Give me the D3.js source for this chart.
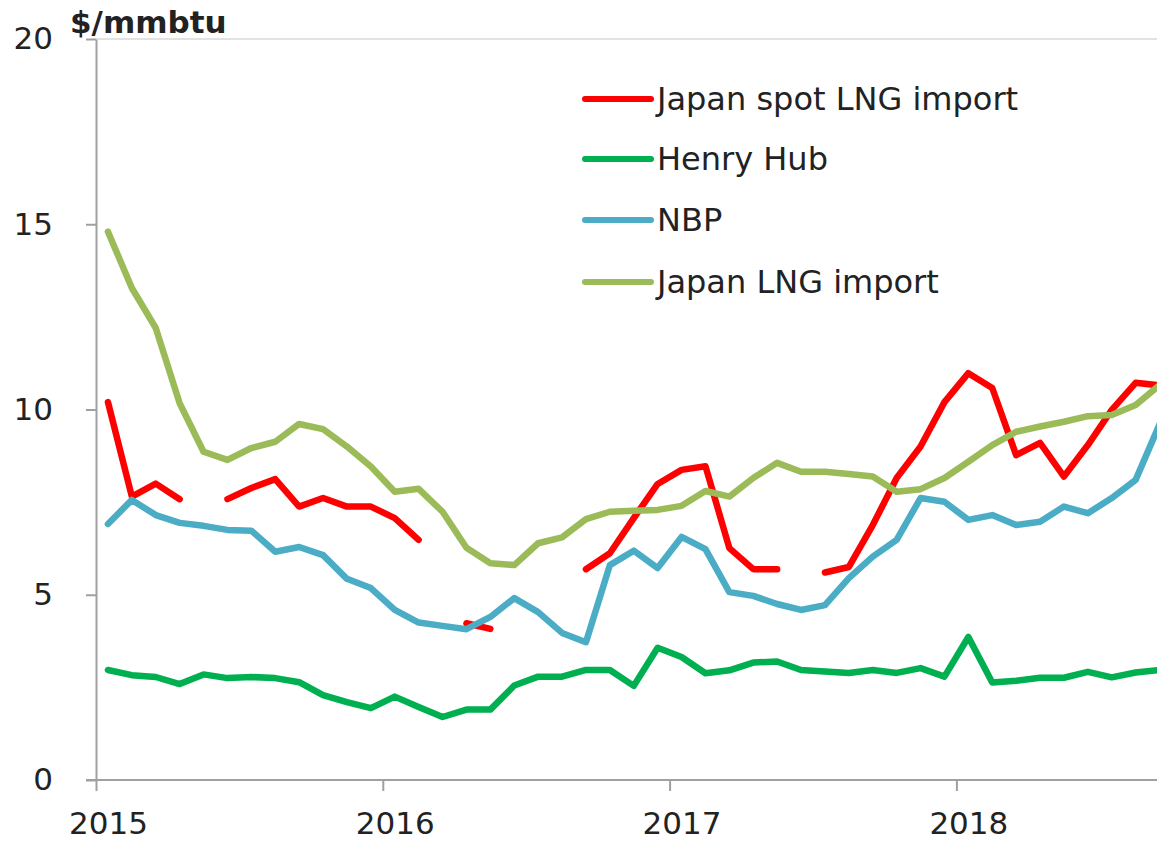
<!DOCTYPE html>
<html>
<head>
<meta charset="utf-8">
<script src="https://cdn.jsdelivr.net/npm/d3@7"></script>
<style>
  body { margin: 0; background: #fff; }
  svg { display: block; font-family: Verdana, "DejaVu Sans", sans-serif; }
</style>
</head>
<body>
<div id="chart"></div>
<script>
// monthly categories, Jan 2015 - Sep 2018
const months = [
  '2015-01','2015-02','2015-03','2015-04','2015-05','2015-06','2015-07','2015-08','2015-09','2015-10','2015-11','2015-12',
  '2016-01','2016-02','2016-03','2016-04','2016-05','2016-06','2016-07','2016-08','2016-09','2016-10','2016-11','2016-12',
  '2017-01','2017-02','2017-03','2017-04','2017-05','2017-06','2017-07','2017-08','2017-09','2017-10','2017-11','2017-12',
  '2018-01','2018-02','2018-03','2018-04','2018-05','2018-06','2018-07','2018-08','2018-09'
];
const yearLabels = ['2015', '2016', '2017', '2018'];
const yTicks = [0, 5, 10, 15, 20];

// $/mmbtu (null = no data)
const japanSpot = [10.2, 7.65, 8.0, 7.58, null, 7.58, 7.88, 8.12, 7.38, 7.61, 7.38, 7.38,
  7.07, 6.48, null, 4.23, 4.08, null, null, null, 5.69, 6.12, 7.07, 7.99,
  8.37, 8.47, 6.26, 5.69, 5.69, null, 5.60, 5.75, 6.88, 8.15, 9.0, 10.2,
  10.98, 10.58, 8.77, 9.10, 8.19, 9.04, 9.99, 10.72, 10.65];
const henryHub = [2.97, 2.83, 2.78, 2.59, 2.85, 2.75, 2.78, 2.75, 2.64, 2.29, 2.10, 1.94,
  2.25, 1.97, 1.70, 1.90, 1.90, 2.55, 2.79, 2.79, 2.97, 2.97, 2.54, 3.57,
  3.32, 2.88, 2.96, 3.17, 3.20, 2.97, 2.93, 2.89, 2.97, 2.89, 3.02, 2.79,
  3.86, 2.63, 2.68, 2.76, 2.76, 2.92, 2.77, 2.90, 2.97];
const nbp = [6.91, 7.56, 7.15, 6.94, 6.86, 6.75, 6.73, 6.16, 6.29, 6.07, 5.43, 5.18,
  4.59, 4.25, 4.16, 4.07, 4.40, 4.91, 4.53, 3.97, 3.72, 5.80, 6.19, 5.72,
  6.56, 6.23, 5.07, 4.97, 4.75, 4.59, 4.72, 5.45, 6.03, 6.48, 7.61, 7.51,
  7.02, 7.15, 6.88, 6.97, 7.38, 7.20, 7.61, 8.10, 9.60];
const japanImport = [14.8, 13.28, 12.2, 10.17, 8.86, 8.64, 8.96, 9.13, 9.61, 9.47, 9.0, 8.46,
  7.78, 7.86, 7.24, 6.27, 5.85, 5.80, 6.39, 6.55, 7.04, 7.24, 7.27, 7.29,
  7.40, 7.80, 7.65, 8.15, 8.56, 8.32, 8.32, 8.26, 8.19, 7.78, 7.85, 8.15,
  8.59, 9.04, 9.40, 9.54, 9.67, 9.82, 9.85, 10.12, 10.66];

const seriesNames = ['Japan spot LNG import', 'Henry Hub', 'NBP', 'Japan LNG import'];
const seriesValues = [japanSpot, henryHub, nbp, japanImport];
const colors = ['#ff0000', '#00b050', '#4bacc6', '#9bbb59'];

const w = 1157, h = 842;
const margin = {top: 39, left: 96, bottom: 62};
const monthW = 23.9;

const svg = d3.select('#chart').append('svg')
  .attr('width', w)
  .attr('height', h);

// month index scale, points sit in the middle of each month
const x = d3.scaleLinear()
  .domain([0, 48])
  .range([margin.left, margin.left + 48 * monthW]);

const y = d3.scaleLinear()
  .domain([0, 20])
  .range([h - margin.bottom, margin.top]);

// top border line of plot area
svg.append('line')
  .attr('x1', margin.left).attr('x2', w)
  .attr('y1', y(20)).attr('y2', y(20))
  .attr('stroke', '#d9d9d9')
  .attr('stroke-width', 1.5);

// y axis
const yAxis = svg.append('g')
  .attr('transform', 'translate(' + margin.left + ',0)')
  .call(d3.axisLeft(y).tickValues(yTicks).tickSize(10).tickSizeOuter(0).tickPadding(33));

// x axis
const xAxis = svg.append('g')
  .attr('transform', 'translate(0,' + y(0) + ')')
  .call(d3.axisBottom(x)
    .tickValues([0, 12, 24, 36])
    .tickFormat(d => yearLabels[d / 12])
    .tickSize(11).tickSizeOuter(0).tickPadding(21));
xAxis.select('.domain').attr('d', 'M' + (margin.left - 10) + ',0H' + w);
xAxis.selectAll('.tick text').attr('x', monthW / 2);

[yAxis, xAxis].forEach(a => {
  a.selectAll('.domain, .tick line').attr('stroke', '#a0a0a0').attr('stroke-width', 2);
  a.selectAll('.tick text')
    .attr('fill', '#222')
    .style('font-size', '31px')
    .style('font-family', 'Verdana, "DejaVu Sans", sans-serif');
});

// unit label
svg.append('text')
  .attr('x', 70).attr('y', 33)
  .attr('fill', '#222')
  .style('font-size', '31px')
  .style('font-weight', 'bold')
  .text('$/mmbtu');

// lines
const line = d3.line()
  .defined(d => d != null)
  .x((d, i) => x(i + 0.5))
  .y(d => y(d));

seriesValues.forEach((vals, k) => {
  svg.append('path')
    .datum(vals)
    .attr('fill', 'none')
    .attr('stroke', colors[k])
    .attr('stroke-width', 6.5)
    .attr('stroke-linejoin', 'round')
    .attr('stroke-linecap', 'round')
    .attr('d', line);
});

// legend
const legendY = [99, 159, 220, 282];
const legend = svg.append('g');
seriesNames.forEach((name, k) => {
  legend.append('line')
    .attr('x1', 585).attr('x2', 651)
    .attr('y1', legendY[k]).attr('y2', legendY[k])
    .attr('stroke', colors[k])
    .attr('stroke-width', 6)
    .attr('stroke-linecap', 'round');
  legend.append('text')
    .attr('x', 657).attr('y', legendY[k])
    .attr('dy', '0.35em')
    .attr('fill', '#222')
    .style('font-size', '32px')
    .text(name);
});
</script>
</body>
</html>
